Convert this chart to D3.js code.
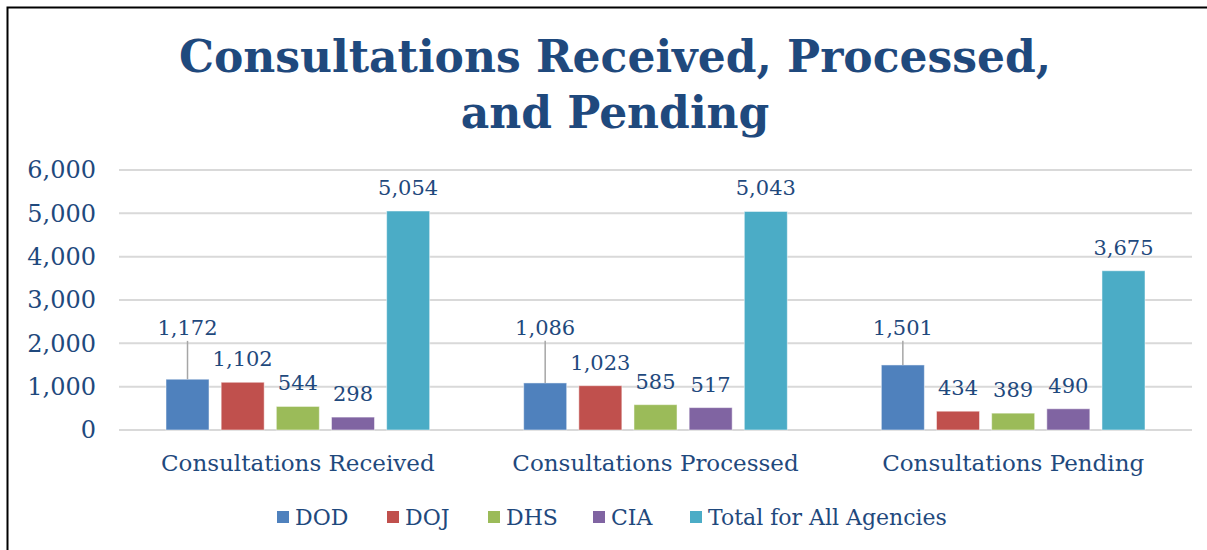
<!DOCTYPE html>
<html>
<head>
<meta charset="utf-8">
<script src="https://cdn.jsdelivr.net/npm/d3@7"></script>
<style>
  body { margin: 0; background: #fff; }
  svg { display: block; }
</style>
</head>
<body>
<div id="chart"></div>
<script>
const categories = ["Consultations Received", "Consultations Processed", "Consultations Pending"];
const series = ["DOD", "DOJ", "DHS", "CIA", "Total for All Agencies"];
const colors = ["#4F81BD", "#C0504D", "#9BBB59", "#8064A2", "#4BACC6"];
const dod = [1172, 1086, 1501];
const doj = [1102, 1023, 434];
const dhs = [544, 585, 389];
const cia = [298, 517, 490];
const total = [5054, 5043, 3675];
const yTicks = [0, 1000, 2000, 3000, 4000, 5000, 6000];

const values = [dod, doj, dhs, cia, total];
const width = 1207, height = 550;
const textColor = "#1F497D";
const font = "'DejaVu Serif', Georgia, serif";

const svg = d3.select("#chart").append("svg")
    .attr("width", width)
    .attr("height", height)
    .style("font-family", font);

// frame
svg.append("path")
    .attr("d", `M7.5,${height} L7.5,7.5 L${width},7.5`)
    .attr("fill", "none")
    .attr("stroke", "#000")
    .attr("stroke-width", 2);

// title
const title = svg.append("text")
    .attr("text-anchor", "middle")
    .attr("fill", textColor)
    .style("font-weight", "bold")
    .style("font-size", "44px");
title.append("tspan").attr("x", 615).attr("y", 72).text("Consultations Received, Processed,");
title.append("tspan").attr("x", 615).attr("y", 128).text("and Pending");

const x0 = d3.scaleBand().domain(categories).range([119, 1192]);
const x1 = d3.scaleBand().domain(series).range([47, x0.bandwidth() - 47]).paddingInner(0.22);
const y = d3.scaleLinear().domain([0, 6000]).range([430, 170]);

// gridlines
svg.append("g").selectAll("line")
    .data(yTicks)
    .join("line")
    .attr("x1", 119).attr("x2", 1192)
    .attr("y1", d => y(d)).attr("y2", d => y(d))
    .attr("stroke", "#D9D9D9")
    .attr("stroke-width", 2);

// y axis labels
const yAxis = svg.append("g")
    .attr("transform", "translate(96,0)")
    .call(d3.axisLeft(y).tickValues(yTicks).tickSize(0).tickPadding(0).tickFormat(d3.format(",")));
yAxis.select(".domain").remove();
yAxis.selectAll("text")
    .attr("fill", textColor)
    .style("font-family", font)
    .style("font-size", "24px");

// category labels
svg.append("g").selectAll("text")
    .data(categories)
    .join("text")
    .attr("x", d => x0(d) + x0.bandwidth() / 2)
    .attr("y", 471)
    .attr("text-anchor", "middle")
    .attr("fill", textColor)
    .style("font-size", "23px")
    .text(d => d);

// bars
const rows = [];
categories.forEach((c, i) => {
    series.forEach((s, j) => rows.push({ c, s, j, v: values[j][i] }));
});

const g = svg.append("g");
g.selectAll("rect")
    .data(rows)
    .join("rect")
    .attr("x", d => x0(d.c) + x1(d.s))
    .attr("y", d => y(d.v))
    .attr("width", x1.bandwidth())
    .attr("height", d => y(0) - y(d.v))
    .attr("fill", d => colors[d.j])
    .attr("stroke", "#fff")
    .attr("stroke-opacity", 0.5)
    .attr("stroke-width", 1);

// DOD labels are pulled up with a leader line
const dodLabelValue = 2380;
g.selectAll("line.leader")
    .data(rows.filter(d => d.j === 0))
    .join("line")
    .attr("class", "leader")
    .attr("x1", d => x0(d.c) + x1(d.s) + x1.bandwidth() / 2)
    .attr("x2", d => x0(d.c) + x1(d.s) + x1.bandwidth() / 2)
    .attr("y1", y(dodLabelValue) + 14)
    .attr("y2", d => y(d.v))
    .attr("stroke", "#A6A6A6")
    .attr("stroke-width", 1.5);

g.selectAll("text.val")
    .data(rows)
    .join("text")
    .attr("class", "val")
    .attr("x", d => x0(d.c) + x1(d.s) + x1.bandwidth() / 2)
    .attr("y", d => d.j === 0 ? y(dodLabelValue) + 8 : y(d.v) - 16)
    .attr("text-anchor", "middle")
    .attr("fill", textColor)
    .style("font-size", "21px")
    .text(d => d3.format(",")(d.v));

// legend
const legendX = [277, 387, 488, 593, 690];
const legend = svg.append("g").selectAll("g")
    .data(series)
    .join("g")
    .attr("transform", (d, i) => `translate(${legendX[i]},511)`);
legend.append("rect")
    .attr("width", 12).attr("height", 12)
    .attr("fill", (d, i) => colors[i]);
legend.append("text")
    .attr("x", 18).attr("y", 14)
    .attr("fill", textColor)
    .style("font-size", "22px")
    .text(d => d);
</script>
</body>
</html>
